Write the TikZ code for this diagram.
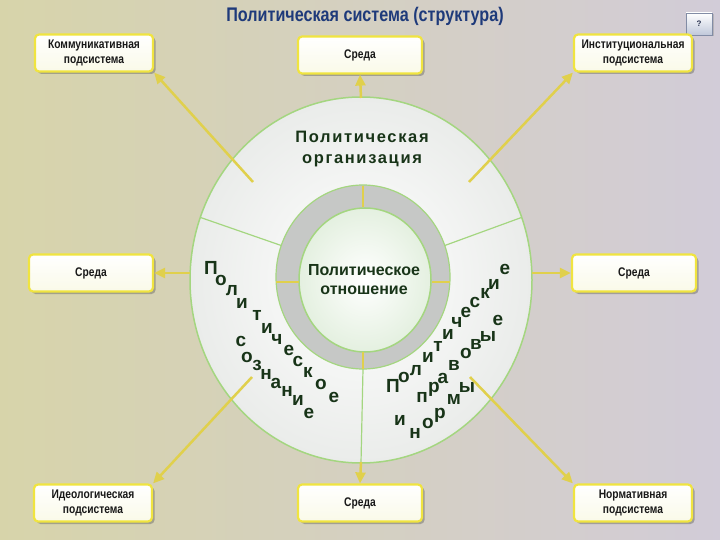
\documentclass[tikz,border=0pt]{standalone}
\usepackage{fontspec}
\setmainfont{Liberation Sans}
\newfontfamily\narrowfont[FakeStretch=0.82]{Liberation Sans}
\newfontfamily\spacedfont[LetterSpace=10]{Liberation Sans}
\usetikzlibrary{arrows.meta,shadows}
\definecolor{bgL}{RGB}{215,212,170}
\definecolor{bgR}{RGB}{210,204,216}
\definecolor{arrowY}{RGB}{224,208,76}
\definecolor{boxY}{RGB}{240,228,64}
\definecolor{boxBot}{RGB}{250,250,232}
\definecolor{boxTxt}{RGB}{24,24,24}
\definecolor{boxShadow}{RGB}{120,120,110}
\definecolor{ringG}{RGB}{164,214,128}
\definecolor{ringOut}{RGB}{234,236,234}
\definecolor{innerOut}{RGB}{228,240,224}
\definecolor{txtG}{RGB}{24,52,24}
\definecolor{titleB}{RGB}{30,58,122}
\definecolor{grayR}{RGB}{198,200,198}
\definecolor{helpBorder}{RGB}{130,140,165}
\definecolor{helpBot}{RGB}{192,200,218}
\definecolor{helpTxt}{RGB}{40,50,80}
\tikzset{
  boxnode/.style={draw=boxY, line width=2.2pt, rounded corners=4pt,
    top color=white, bottom color=boxBot,
    minimum height=37pt, align=center, text=boxTxt,
    font=\narrowfont\bfseries\fontsize{12.5}{14.5}\selectfont,
    drop shadow={shadow xshift=2.5pt, shadow yshift=-2.5pt, fill=boxShadow, opacity=0.55}},
  cornerbox/.style={boxnode, minimum width=118pt},
  midbox/.style={boxnode, minimum width=124pt},
  arr/.style={draw=arrowY, line width=2.5pt, -{Triangle[length=11pt,width=10pt]}},
  tickline/.style={draw=arrowY, line width=2.5pt},
  divider/.style={draw=ringG, line width=1.2pt},
  letter/.style={inner sep=0pt, text height=1ex, text depth=0pt, anchor=center,
    text=txtG, font=\bfseries\fontsize{19}{19}\selectfont},
}
\begin{document}
\begin{tikzpicture}[x=1pt,y=-1pt]
\useasboundingbox (0,0) rectangle (720,540);
\shade[left color=bgL, right color=bgR] (0,0) rectangle (720,540);

% title and help button
\node[text=titleB, font=\narrowfont\bfseries\fontsize{19.7}{20}\selectfont] (title) at (365,16) {Политическая система (структура)};
\node[draw=helpBorder, top color=white, bottom color=helpBot,
  minimum width=26pt, minimum height=22pt, inner sep=0pt,
  font=\bfseries\fontsize{8}{8}\selectfont, text=helpTxt,
  drop shadow={shadow xshift=1.5pt, shadow yshift=-1.5pt, fill=black!40, opacity=0.5}] (help) at (699,24) {?};

% rings
\shadedraw[inner color=white, outer color=ringOut, draw=ringG, line width=1.5pt]
  (361,280) ellipse [x radius=171pt, y radius=183pt];
\filldraw[fill=grayR, draw=ringG, line width=1.2pt] (363,277) ellipse [x radius=87pt, y radius=92pt];
\shadedraw[inner color=white, outer color=innerOut, draw=ringG, line width=1.5pt]
  (365,280) ellipse [x radius=66pt, y radius=72pt];

% dividers
\draw[divider] (281.2,245.5) -- (200.3,217.4);
\draw[divider] (444.8,245.5) -- (521.7,217.4);
\draw[divider] (363,369) -- (361,463);

% ticks in the grey ring
\draw[tickline] (363,186) -- (363,207);
\draw[tickline] (276,282) -- (299,282);
\draw[tickline] (432,282) -- (450,282);
\draw[tickline] (363,352) -- (363,369);

% texts in the rings
\node[text=txtG, align=center, font=\spacedfont\bfseries\fontsize{16.5}{21}\selectfont] (org) at (362,149) {Политическая\\организация};
\node[text=txtG, align=center, font=\bfseries\fontsize{16}{19}\selectfont] (rel) at (364,280) {Политическое\\отношение};

\foreach \ch/\x/\y [count=\i] in {П/211/272, о/221/283, л/232/293, и/242/306, т/257/318, и/267/331, ч/277/342, е/289/353, с/298/364, к/308/375, о/321/387, е/334/400}
  \node[letter] (pa\i) at (\x,\y) {\ch};
\foreach \ch/\x/\y [count=\i] in {с/241/344, о/247/360, з/257/368, н/266/377, а/276/386, н/287/394, и/298/403, е/309/416}
  \node[letter] (pb\i) at (\x,\y) {\ch};
\foreach \ch/\x/\y [count=\i] in {П/393/390, о/404/380, л/416/373, и/428/360, т/438/349, и/448/337, ч/457/325, е/466/315, с/475/305, к/485/296, и/494/287, е/505/272}
  \node[letter] (pc\i) at (\x,\y) {\ch};
\foreach \ch/\x/\y [count=\i] in {п/422/400, р/434/390, а/443/381, в/454/368, о/466/356, в/476/347, ы/488/339, е/498/323}
  \node[letter] (pd\i) at (\x,\y) {\ch};
\foreach \ch/\x/\y [count=\i] in {и/400/423, н/415/436, о/428/426, р/440/416, м/454/402, ы/467/390}
  \node[letter] (pe\i) at (\x,\y) {\ch};

% boxes
\node[cornerbox] (tl) at (94,53) {Коммуникативная\\подсистема};
\node[midbox] (tc) at (360,55) {Среда};
\node[cornerbox] (tr) at (633,53) {Институциональная\\подсистема};
\node[midbox] (ml) at (91,273) {Среда};
\node[midbox] (mr) at (634,273) {Среда};
\node[cornerbox] (bl) at (93,503) {Идеологическая\\подсистема};
\node[midbox] (bc) at (360,503) {Среда};
\node[cornerbox] (br) at (633,503) {Нормативная\\подсистема};

% arrow start points
\coordinate (s1) at (253,182);
\coordinate (s2) at (469,182);
\coordinate (s3) at (252,377);
\coordinate (s4) at (470,377);
\coordinate (rT) at (361,98);
\coordinate (rL) at (190,273);
\coordinate (rR) at (532,273);
\coordinate (rB) at (361,462);

\draw[arr] (s1) -- (tl.south east);
\draw[arr] (s2) -- (tr.south west);
\draw[arr] (s3) -- (bl.north east);
\draw[arr] (s4) -- (br.north west);
\draw[arr] (rT) -- (tc.south);
\draw[arr] (rL) -- (ml.east);
\draw[arr] (rR) -- (mr.west);
\draw[arr] (rB) -- (bc.north);
\end{tikzpicture}
\end{document}
